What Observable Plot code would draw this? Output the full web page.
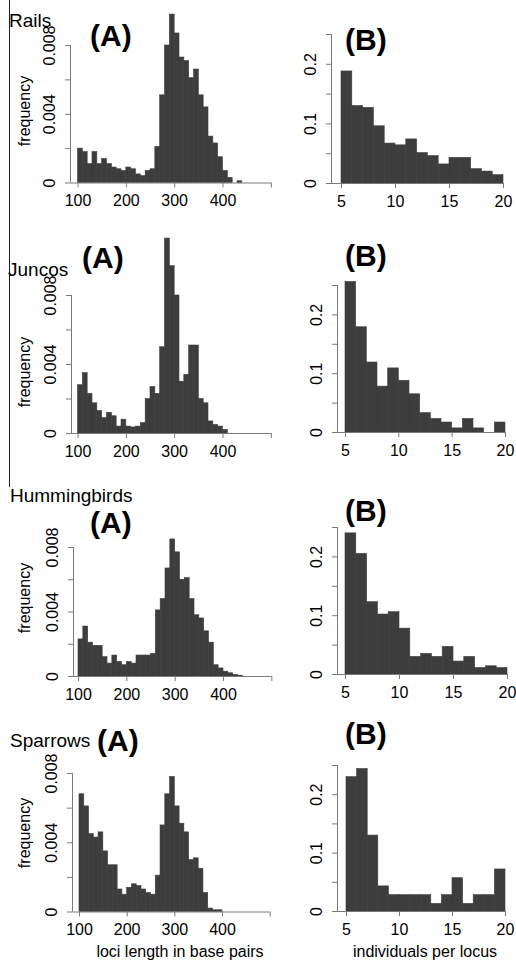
<!DOCTYPE html>
<html><head><meta charset="utf-8">
<script src="https://cdn.jsdelivr.net/npm/d3@7"></script>
<script src="https://cdn.jsdelivr.net/npm/@observablehq/plot@0.6"></script>
<style>
body{margin:0;background:#fff;}
#fig{position:relative;width:516px;height:962px;overflow:hidden;background:#fff;font-family:"Liberation Sans",Arial,sans-serif;}
#fig svg{position:absolute;}
</style></head><body><div id="fig"></div>
<script>
// ---- data ----
const lociBins = [100,110,120,130,140,150,160,170,180,190,200,210,220,230,240,250,260,270,280,290,300,310,320,330,340,350,360,370,380,390,400,410,420,430,440];
const individualBins = [5,6,7,8,9,10,11,12,13,14,15,16,17,18,19];

const railsLoci = [0.0020,0.0018,0.0011,0.0018,0.0011,0.0014,0.0011,0.0009,0.0008,0.0007,0.0009,0.0008,0.0005,0.0004,0.0007,0.0008,
  0.0021,0.0051,0.0080,0.0098,0.0087,0.0073,0.0071,0.0061,0.0066,0.0051,0.0044,0.0027,0.0023,0.0015,0.0007,0.0003,0,0.0001,0];
const juncosLoci = [0.0028,0.0035,0.0023,0.00175,0.0013,0.0009,0.0012,0.0010,0.0004,0.0008,0.0004,0.00035,0.0004,0.0006,0.0020,0.0027,0.0023,0.0050,
  0.0113,0.0097,0.0080,0.0030,0.0034,0.0051,0.0051,0.0020,0.00175,0.0007,0.0005,0.0004,0.0002,0,0,0,0];
const hummingbirdsLoci = [0.0023,0.0031,0.0021,0.0019,0.0019,0.0012,0.0008,0.0013,0.0009,0.0007,0.0009,0.0008,0.0013,0.0013,0.0013,0.0014,
  0.0041,0.0048,0.0067,0.0085,0.0077,0.0060,0.0061,0.0048,0.0038,0.0036,0.0028,0.0021,0.0007,0.0005,0.0003,0.0002,0.0001,0.00005,0];
const sparrowsLoci = [0.0068,0.0061,0.0045,0.0043,0.0046,0.0035,0.0027,0.0027,0.0013,0.0010,0.0014,0.0016,0.0015,0.0013,0.0011,0.0010,
  0.0021,0.0050,0.0068,0.0078,0.0061,0.0051,0.0046,0.0030,0.0031,0.0025,0.0011,0.0002,0.0001,0.0001,0,0,0,0,0];

const railsInd = [0.188,0.130,0.127,0.096,0.067,0.064,0.074,0.051,0.046,0.032,0.043,0.043,0.024,0.020,0.014];
const juncosInd = [0.256,0.179,0.119,0.078,0.109,0.088,0.065,0.033,0.023,0.017,0.007,0.023,0.007,0,0.017];
const hummingbirdsInd = [0.240,0.205,0.123,0.102,0.106,0.078,0.030,0.035,0.030,0.047,0.022,0.030,0.011,0.014,0.011];
const sparrowsInd = [0.230,0.244,0.130,0.043,0.028,0.028,0.028,0.028,0.013,0.028,0.057,0.013,0.028,0.028,0.072];

const species = ["Rails","Juncos","Hummingbirds","Sparrows"];
const lociTicksX = [100,200,300,400,500];
const lociTickLabels = ["100","200","300","400",""];
const lociTicksY = [0,0.002,0.004,0.006,0.008];
const lociTickLabelsY = ["0","","0.004","","0.008"];
const indTicksX = [5,10,15,20];
const indTicksY = [0,0.05,0.1,0.15,0.2,0.25];
const indTickLabelsY = ["0","","0.1","","0.2",""];

// ---- layout ----
const BAR = "#3d3d3d", AXIS = "#7a7a7a";
const fig = document.getElementById("fig");

function panel(c) {
  const bx = (c.x1px - c.x0px) / (c.xv1 - c.xv0);
  const invx = p => c.xv0 + (p - c.x0px) / bx;
  const by = (c.y0px - c.yTopPx) / c.yTopV;
  const frameR = c.frameR;
  const data = c.bins.map((b, i) => ({b, v: c.values[i]})).filter(d => d.v > 0);
  const plot = Plot.plot({
    width: c.width, height: c.height,
    marginLeft: c.frameL - c.left, marginRight: c.left + c.width - frameR,
    marginTop: 0, marginBottom: c.top + c.height - c.y0px,
    style: {background: "transparent", fontFamily: "Liberation Sans, Arial, sans-serif", fontSize: "16px", overflow: "visible"},
    x: {domain: [invx(c.frameL), invx(frameR)]},
    y: {domain: [0, (c.y0px - c.top) / by]},
    marks: [
      Plot.rect(data, {x1: "b", x2: d => d.b + c.bw, y1: 0, y2: "v", fill: BAR, stroke: BAR, strokeWidth: 0.6}),
      Plot.ruleY([0], {x1: invx(c.frameL), x2: c.xTicks[c.xTicks.length - 1], stroke: AXIS}),
      Plot.ruleX([invx(c.frameL)], {y1: 0, y2: c.yTicks[c.yTicks.length - 1], stroke: AXIS}),
      Plot.axisX({ticks: c.xTicks, tickFormat: (d, i) => c.xLabels[i], tickSize: 5, tickPadding: 7,
        stroke: AXIS, fill: "black", label: null, fontSize: 16}),
      Plot.axisY({ticks: c.yTicks, tickFormat: (d, i) => c.yLabels[i], tickSize: 5, tickPadding: 11, tickRotate: -90,
        stroke: AXIS, fill: "black", label: null, fontSize: 16})
    ]
  });
  plot.style.left = c.left + "px";
  plot.style.top = c.top + "px";
  fig.appendChild(plot);
}

const rowsA = [
  {values: railsLoci, top: 0, height: 215, x0px: 77.5, x1px: 222.5, frameL: 70, y0px: 182.5, yTopPx: 45},
  {values: juncosLoci, top: 228, height: 235, x0px: 77.5, x1px: 222.5, frameL: 71, y0px: 433, yTopPx: 295},
  {values: hummingbirdsLoci, top: 505, height: 200, x0px: 78, x1px: 223, frameL: 73, y0px: 676, yTopPx: 547},
  {values: sparrowsLoci, top: 735, height: 200, x0px: 79, x1px: 222, frameL: 72, y0px: 911.5, yTopPx: 773}
];
const rowsB = [
  {values: railsInd, top: 0, height: 215, x0px: 341, x1px: 503, frameL: 331, y0px: 183, yTopPx: 34},
  {values: juncosInd, top: 228, height: 235, x0px: 345, x1px: 505, frameL: 337, y0px: 432, yTopPx: 285},
  {values: hummingbirdsInd, top: 505, height: 200, x0px: 345, x1px: 507, frameL: 337, y0px: 674, yTopPx: 527},
  {values: sparrowsInd, top: 735, height: 200, x0px: 346, x1px: 505, frameL: 337, y0px: 911, yTopPx: 765}
];
rowsA.forEach(r => panel({...r, left: 40, width: 245, xv0: 100, xv1: 400, frameR: 280,
  bins: lociBins, bw: 10, xTicks: lociTicksX, xLabels: lociTickLabels, yTicks: lociTicksY, yLabels: lociTickLabelsY, yTopV: 0.008}));
rowsB.forEach(r => panel({...r, left: 290, width: 226, xv0: 5, xv1: 20, frameR: 512,
  bins: individualBins, bw: 1, xTicks: indTicksX, xLabels: indTicksX.map(String), yTicks: indTicksY, yLabels: indTickLabelsY, yTopV: 0.25}));

// ---- annotations ----
const svg = d3.select(fig).append("svg").attr("width", 516).attr("height", 962)
  .style("left", 0).style("top", 0).style("pointer-events", "none")
  .attr("font-family", "Liberation Sans, Arial, sans-serif");
svg.append("line").attr("x1", 9.5).attr("x2", 9.5).attr("y1", 0).attr("y2", 487).attr("stroke", "#222").attr("stroke-width", 1);
const spPos = [[9, 27], [8, 276], [10, 502], [10, 747]];
species.forEach((s, i) => svg.append("text").attr("x", spPos[i][0]).attr("y", spPos[i][1]).attr("font-size", 19).text(s));
const aPos = [[90, 46], [82, 268], [90, 533], [97, 751]];
const bPos = [[345, 50], [345, 266], [345, 521], [345, 744]];
aPos.forEach(p => svg.append("text").attr("x", p[0]).attr("y", p[1]).attr("font-size", 30).attr("font-weight", "bold").text("(A)"));
bPos.forEach(p => svg.append("text").attr("x", p[0]).attr("y", p[1]).attr("font-size", 30).attr("font-weight", "bold").text("(B)"));
const fy = [111, 372, 598, 833];
fy.forEach(y => svg.append("text").attr("transform", `translate(30,${y}) rotate(-90)`).attr("text-anchor", "middle").attr("font-size", 16).text("frequency"));
svg.append("text").attr("x", 180).attr("y", 957).attr("text-anchor", "middle").attr("font-size", 16).text("loci length in base pairs");
svg.append("text").attr("x", 425).attr("y", 957).attr("text-anchor", "middle").attr("font-size", 16).text("individuals per locus");
</script></body></html>
